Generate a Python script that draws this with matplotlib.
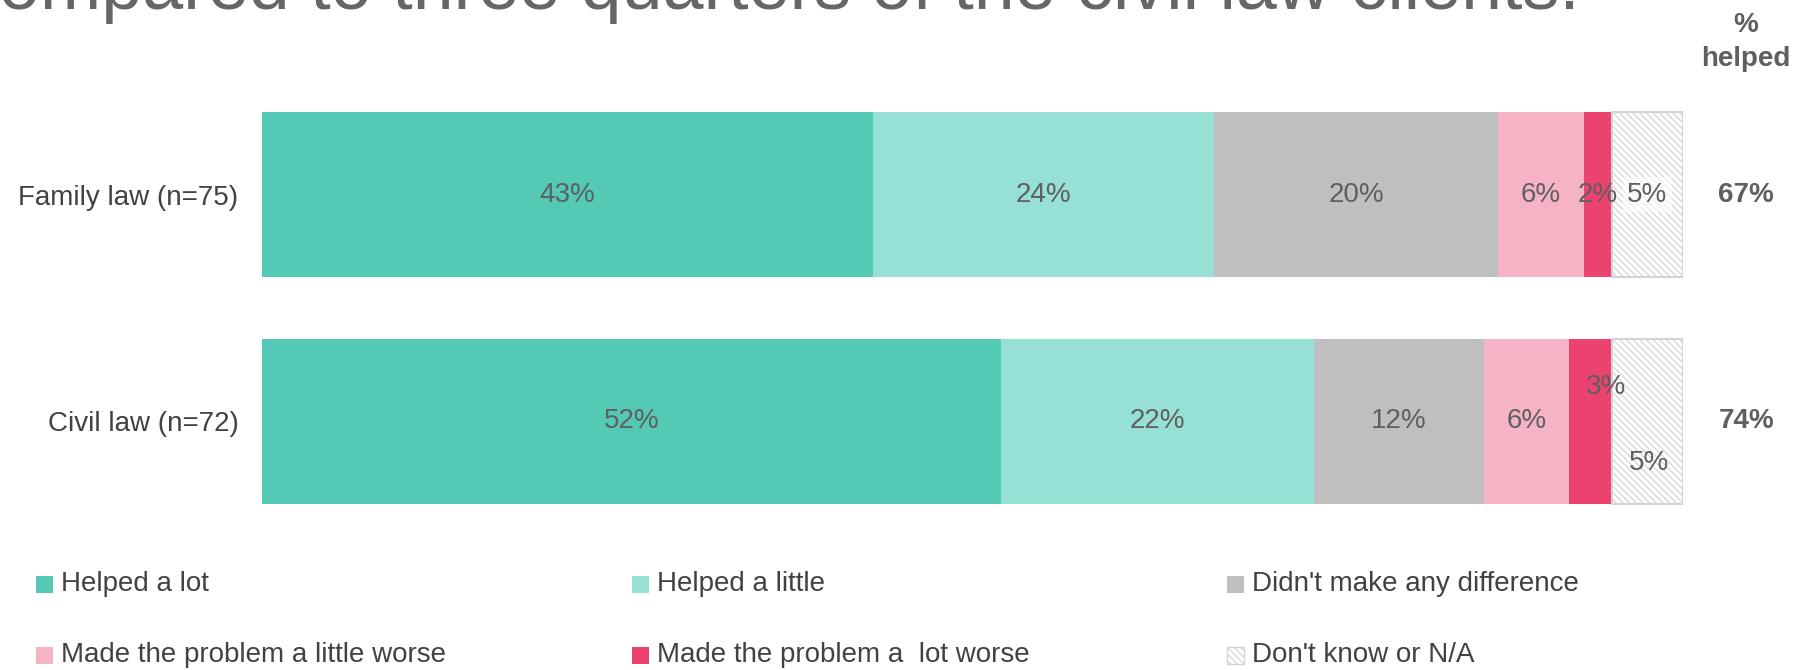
import matplotlib
matplotlib.use("Agg")
import matplotlib.pyplot as plt
from matplotlib.patches import Rectangle

plt.rcParams['font.family'] = ['Liberation Sans', 'DejaVu Sans']
plt.rcParams['hatch.linewidth'] = 0.9

# Survey results: how much the service helped, by area of law
categories = ["Family law (n=75)", "Civil law (n=72)"]
responses = [
    "Helped a lot",
    "Helped a little",
    "Didn't make any difference",
    "Made the problem a little worse",
    "Made the problem a  lot worse",
    "Don't know or N/A",
]
family_values = [43, 24, 20, 6, 2, 5]
civil_values = [52, 22, 12, 6, 3, 5]
helped_labels = ["67%", "74%"]
title_text = "compared to three quarters of the civil law clients."

colors = ["#53C9B6", "#96E0D5", "#BFBFBF", "#F5B3C5", "#EB4270", "#FFFFFF"]
hatches = [None, None, None, None, None, "\\\\\\\\\\"]
edges = ["none", "none", "none", "none", "none", "#D4D4D4"]

GREY = "#5F5F5F"
DARK = "#424242"

W, H = 1805, 670
fig = plt.figure(figsize=(W / 100, H / 100), dpi=100)
fig.patch.set_facecolor("white")

ax = fig.add_axes([262 / W, 0.2015, 1421 / W, 0.6776])
ax.set_xlim(0, 100)
ax.set_ylim(1.5, -0.5)
for s in ax.spines.values():
    s.set_visible(False)
ax.set_xticks([])
ax.set_yticks([0, 1])
ax.set_yticklabels(categories, fontsize=20, color=DARK)
ax.tick_params(axis="y", length=0, pad=17)

rows = [family_values, civil_values]
bar_h = 0.727
# per-label nudges (points) for labels that would collide in narrow segments
label_offsets = {(1, 4): (11, 25), (1, 5): (1, -30)}

for i, vals in enumerate(rows):
    left = 0
    for j, v in enumerate(vals):
        ax.barh(i, v, left=left, height=bar_h, color=colors[j],
                hatch=hatches[j], edgecolor=edges[j],
                linewidth=1.5 if hatches[j] else 0)
        dx, dy = label_offsets.get((i, j), (0, 0))
        bbox = None
        if (i, j) == (0, 5):
            bbox = dict(boxstyle="square,pad=0.15", fc="white", ec="none", alpha=0.6)
        ax.annotate(f"{v}%", (left + v / 2, i), xytext=(dx, dy),
                    textcoords="offset points", ha="center", va="center",
                    fontsize=20, color=GREY, bbox=bbox)
        left += v

# "% helped" column
fig.text(1746 / W, 1 - 25 / H, "%", ha="center", va="center",
         fontsize=20, fontweight="bold", color=GREY)
fig.text(1746 / W, 1 - 59 / H, "helped", ha="center", va="center",
         fontsize=20, fontweight="bold", color=GREY)
for i, lab in enumerate(helped_labels):
    ax.annotate(lab, (1, i), xycoords=("axes fraction", "data"),
                xytext=(45.5, 0), textcoords="offset points",
                ha="center", va="center",
                fontsize=20, fontweight="bold", color=GREY)

# Title line (runs off the top of the canvas)
fig.text(-38 / W, 1 - 9 / H, title_text, ha="left", va="baseline",
         fontsize=53, color="#666666")

# Legend, three columns by two rows
col_sq = [36, 632, 1227]
row_y = [584, 655]
sq = 17
for k, name in enumerate(responses):
    r, c = divmod(k, 3)
    x0 = col_sq[c]
    yc = row_y[r]
    rect = Rectangle((x0 / W, 1 - (yc + sq / 2) / H), sq / W, sq / H,
                     transform=fig.transFigure, facecolor=colors[k],
                     hatch=hatches[k],
                     edgecolor=edges[k] if hatches[k] else "none",
                     linewidth=1 if hatches[k] else 0)
    fig.patches.append(rect)
    fig.text((x0 + 25) / W, 1 - yc / H, name, ha="left", va="center",
             fontsize=20, color=DARK)

fig.savefig("out.png", dpi=100, facecolor="white")
